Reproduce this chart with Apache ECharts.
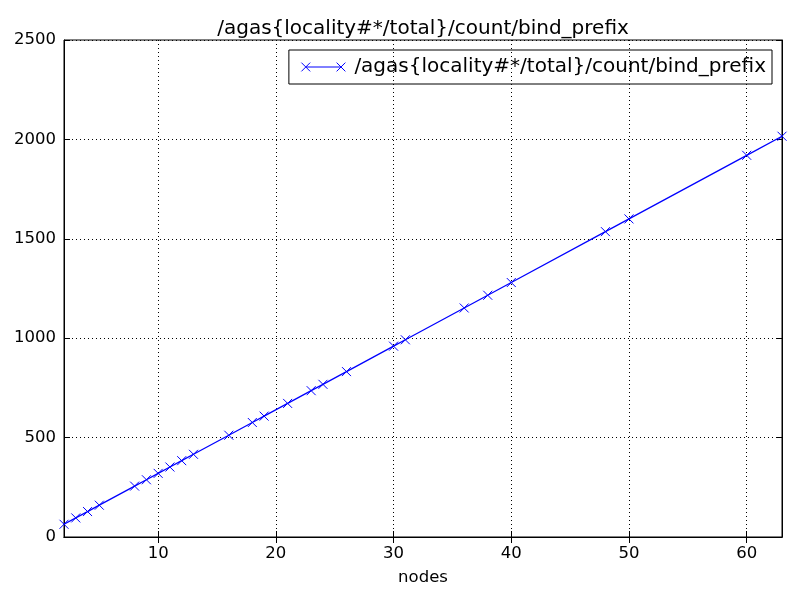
<!DOCTYPE html>
<html><head><meta charset="utf-8">
<script src="https://cdn.jsdelivr.net/npm/echarts@6/dist/echarts.min.js"></script>
<style>html,body{margin:0;padding:0;background:#fff}#c{width:800px;height:600px}</style>
</head><body><div id="c"></div>
<script>
const nodes = [2,3,4,5,8,9,10,11,12,13,16,18,19,21,23,24,26,30,31,36,38,40,48,50,60,63];
const bindPrefix = [64,96,128,160,256,288,320,352,384,416,512,576,608,672,736,768,832,960,992,1152,1216,1280,1536,1600,1920,2016];
const xTicks = [10,20,30,40,50,60];
const seriesName = '/agas{locality#*/total}/count/bind_prefix';
const font = 'DejaVu Sans';
const chart = echarts.init(document.getElementById('c'));
const xMark = 'path://M0,0L10,10M10,0L0,10';
const legendIcon = 'path://M0,0L9,9M9,0L0,9M4.5,4.5L40.5,4.5M36,0L45,9M45,0L36,9';
const commonAxisLine = {show:true, lineStyle:{color:'#000', width:1}};
chart.setOption({
  animation:false,
  title:{text:seriesName, left:418, textAlign:'center', top:14, textStyle:{fontFamily:font, fontSize:20, fontWeight:'normal', color:'#000'}},
  legend:{right:28, top:50, orient:'vertical', borderColor:'#000', borderWidth:1, borderRadius:0, padding:[7,6,7,12], itemWidth:44, itemHeight:9, itemGap:0,
    textStyle:{fontFamily:font, fontSize:20, color:'#000', padding:[0,0,0,4]},
    data:[{name:seriesName, icon:legendIcon, itemStyle:{color:'rgba(0,0,0,0)', borderColor:'#0000ff', borderWidth:1}}]},
  grid:{left:64, right:18, top:40, bottom:63, show:true, borderColor:'#000', borderWidth:1},
  xAxis:[{type:'value', min:2, max:63, position:'bottom', name:'nodes', nameLocation:'middle', nameGap:32,
    nameTextStyle:{fontFamily:font, fontSize:16.5, color:'#000'},
    axisLine:commonAxisLine, axisTick:{show:true, inside:true, length:6, customValues:xTicks, lineStyle:{color:'#000'}},
    axisLabel:{customValues:xTicks, fontFamily:font, fontSize:16.5, color:'#000', margin:8},
    splitLine:{show:true, lineStyle:{color:'#000', type:[1,3], width:1}}},
   {type:'value', min:2, max:63, position:'top', axisLine:commonAxisLine,
    axisTick:{show:true, inside:true, length:6, customValues:xTicks, lineStyle:{color:'#000'}},
    axisLabel:{show:false, customValues:xTicks}, splitLine:{show:false}}],
  yAxis:[{type:'value', min:0, max:2500, interval:500, position:'left',
    axisLine:commonAxisLine, axisTick:{show:true, inside:true, length:6, lineStyle:{color:'#000'}},
    axisLabel:{fontFamily:font, fontSize:16.5, color:'#000', margin:8, formatter:v=>String(v)},
    splitLine:{show:true, lineStyle:{color:'#000', type:[1,3], width:1}}},
   {type:'value', min:0, max:2500, interval:500, position:'right', axisLine:commonAxisLine,
    axisTick:{show:true, inside:true, length:6, lineStyle:{color:'#000'}},
    axisLabel:{show:false}, splitLine:{show:false}}],
  series:[{name:seriesName, type:'line', xAxisIndex:0, yAxisIndex:0,
    data:nodes.map((n,i)=>[n,bindPrefix[i]]),
    symbol:xMark, symbolSize:9, showAllSymbol:true,
    lineStyle:{color:'#0000ff', width:1.3},
    itemStyle:{color:'rgba(0,0,0,0)', borderColor:'#0000ff', borderWidth:1},
    clip:false}]
});
</script></body></html>
